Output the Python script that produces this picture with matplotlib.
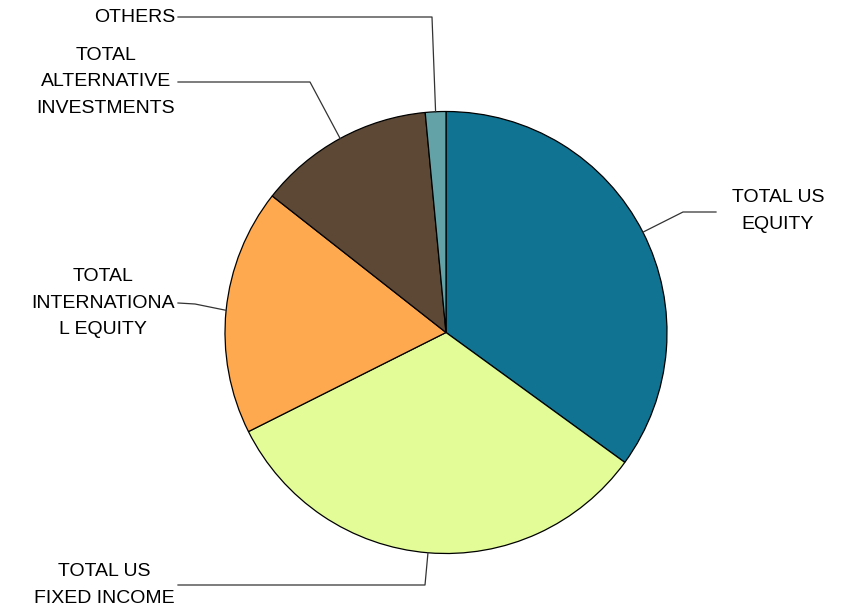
import matplotlib
matplotlib.use("Agg")
import numpy as np
import matplotlib.pyplot as plt

plt.rcParams['font.family'] = ['Liberation Sans', 'DejaVu Sans']

# asset allocation, clockwise from 12 o'clock
labels = ['TOTAL US\nEQUITY', 'TOTAL US\nFIXED INCOME', 'TOTAL\nINTERNATIONA\nL EQUITY',
          'TOTAL\nALTERNATIVE\nINVESTMENTS', 'OTHERS']
shares = [35.0, 32.6, 18.0, 12.9, 1.5]
colors = ['#0f7391', '#e3fc98', '#fea94f', '#5c4835', '#63a3a8']

W, H = 844, 610
fig = plt.figure(figsize=(W / 100, H / 100), dpi=100)
ax = fig.add_axes([0, 0, 1, 1])
ax.set_xlim(0, W)
ax.set_ylim(0, H)
ax.set_aspect('equal')
ax.axis('off')

cx, cy, r = 446, H - 332.5, 221
wedges, _ = ax.pie(shares, colors=colors, startangle=90, counterclock=False,
                   center=(cx, cy), radius=r,
                   wedgeprops=dict(edgecolor='black', linewidth=0.9))
ax.set_xlim(0, W)
ax.set_ylim(0, H)

# leader elbows (x, y from top) and where the label text sits
elbows = [(683, 212), (425, 585), (195, 304), (310, 82), (432, 17)]
ends = [(716, 212), (178, 585), (178, 303), (178, 82), (178, 17)]
text_pos = [(778, 211, 'center'), (175, 585, 'right'), (175, 303, 'right'),
            (175, 82, 'right'), (175, 17, 'right')]

for w, lab, (ex, ey), (tx, ty), (px, py, ha) in zip(wedges, labels, elbows, ends, text_pos):
    mid = np.deg2rad((w.theta1 + w.theta2) / 2)
    x0 = cx + r * np.cos(mid)
    y0 = cy + r * np.sin(mid)
    ax.plot([x0, ex, tx], [y0, H - ey, H - ty], color='#333333', lw=0.9)
    ax.text(px, H - py, lab, ha=ha, va='center', multialignment='center',
            fontsize=14, linespacing=1.7, color='black')

fig.savefig('out.png', dpi=100, facecolor='white')
